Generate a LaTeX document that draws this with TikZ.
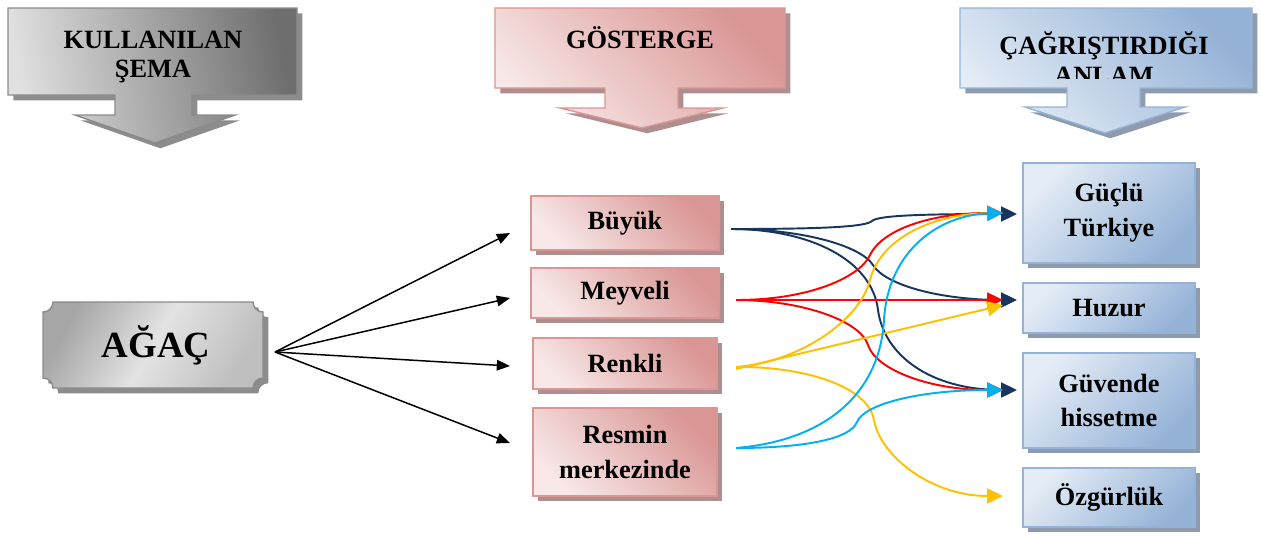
\documentclass[tikz,border=0pt]{standalone}
\usepackage{fontspec}
\setmainfont{Liberation Serif}
\usetikzlibrary{arrows.meta,shadows,calc}
\definecolor{navy}{HTML}{17365D}
\definecolor{cred}{HTML}{FF0000}
\definecolor{cyel}{HTML}{FFC000}
\definecolor{cblu}{HTML}{00B0F0}
\definecolor{pinkL}{HTML}{F8E8E8}
\definecolor{pinkD}{HTML}{D99694}
\definecolor{pinkS}{HTML}{AE8E8E}
\definecolor{blueL}{HTML}{E4ECF6}
\definecolor{blueD}{HTML}{95B3D7}
\definecolor{blueS}{HTML}{8E9BAC}
\definecolor{grayL}{HTML}{E0E0E0}
\definecolor{grayD}{HTML}{6E6E6E}
\definecolor{grayS}{HTML}{8C8C8C}
\begin{document}
\begin{tikzpicture}[x=0.02cm,y=-0.02cm,
  hdr/.style={font=\bfseries\fontsize{15}{17}\selectfont, align=center, inner sep=0pt},
  txt/.style={font=\bfseries\fontsize{15}{19.8}\selectfont, align=center, inner sep=0pt},
  sz/.style 2 args={minimum width=#1, minimum height=#2},
  pinkbox/.style={txt, draw=pinkD, line width=0.8pt, left color=pinkL, right color=pinkD, shading angle=135,
    general shadow={fill=pinkS, shadow xshift=3pt, shadow yshift=-3pt}},
  bluebox/.style={txt, draw=blueD, line width=0.8pt, left color=blueL, right color=blueD, shading angle=45,
    general shadow={fill=blueS, shadow xshift=3pt, shadow yshift=-3pt}},
  blk/.style={black, line width=0.85pt, -{Triangle[length=7.5pt,width=6pt]}},
  con/.style={line width=1.1pt, -{Triangle[length=9pt,width=8.5pt]}},
]
\useasboundingbox (0,0) rectangle (1261,535);
\fill[white] (0,0) rectangle (1261,535);

% header arrows
\def\hdrA{(8,8) -- (297,8) -- (297,95) -- (192,95) -- (192,115) -- (235,115) -- (155,143) -- (75,115) -- (115,115) -- (115,95) -- (8,95) -- cycle}
\def\hdrB{(495,8) -- (785,8) -- (785,88) -- (678,88) -- (678,108) -- (723,108) -- (642,128) -- (560,108) -- (605,108) -- (605,88) -- (495,88) -- cycle}
\def\hdrC{(960,8) -- (1252,8) -- (1252,88) -- (1140,88) -- (1140,107) -- (1185,107) -- (1105,133) -- (1025,107) -- (1067,107) -- (1067,88) -- (960,88) -- cycle}
\fill[grayS, xshift=3pt, yshift=-3pt] \hdrA;
\draw[grayD!80, line width=0.8pt, left color=grayL, right color=grayD, shading angle=100] \hdrA;
\fill[pinkS, xshift=3pt, yshift=-3pt] \hdrB;
\draw[pinkD, line width=0.8pt, left color=pinkL, right color=pinkD, shading angle=135] \hdrB;
\fill[blueS, xshift=3pt, yshift=-3pt] \hdrC;
\draw[blueD, line width=0.8pt, left color=blueL, right color=blueD, shading angle=135] \hdrC;
\node[hdr] (hA) at (153,57) {KULLANILAN\\ŞEMA};
\node[hdr] (hB) at (640,38) {GÖSTERGE};
\begin{scope}
\clip (960,8) rectangle (1252,78);
\node[hdr] (hC) at (1104,58) {ÇAĞRIŞTIRDIĞI\\ANLAM};
\end{scope}

% AGAC plaque
\def\plq{(53,302) -- (253,302) arc[start angle=180,end angle=90,radius=10] -- (263,378) arc[start angle=270,end angle=180,radius=10] -- (53,388) arc[start angle=0,end angle=-90,radius=10] -- (43,312) arc[start angle=90,end angle=0,radius=10] -- cycle}
\fill[grayS, xshift=3pt, yshift=-3pt] \plq;
\draw[grayD!80, line width=0.8pt, left color=gray!70, right color=gray!50, middle color=gray!22, shading angle=60] \plq;
\node[font=\bfseries\fontsize{21}{24}\selectfont, inner sep=0pt, sz={4.4cm}{1.72cm}] (agac) at (156,345) {AĞAÇ};

% middle boxes
\node[pinkbox, sz={3.76cm}{1.08cm}] (buyuk) at (625,223) {Büyük};
\node[pinkbox, sz={3.76cm}{1.0cm}] (meyveli) at (625,293) {Meyveli};
\node[pinkbox, sz={3.68cm}{1.02cm}] (renkli) at (625,363.5) {Renkli};
\node[pinkbox, sz={3.68cm}{1.76cm}] (resmin) at (625,452) {Resmin\\merkezinde};

% right boxes
\node[bluebox, sz={3.44cm}{2.0cm}] (guclu) at (1109,213) {Güçlü\\Türkiye};
\node[bluebox, sz={3.44cm}{1.0cm}] (huzur) at (1109,308) {Huzur};
\node[bluebox, sz={3.44cm}{1.9cm}] (guvende) at (1109,400.5) {Güvende\\hissetme};
\node[bluebox, sz={3.44cm}{1.18cm}] (ozgur) at (1109,497.5) {Özgürlük};

% connector end points
\coordinate (src) at (275,352);
\coordinate (aB) at (510,233);
\coordinate (aM) at (510,298);
\coordinate (aR) at (510,366);
\coordinate (aS) at (510,443);
\coordinate (sB) at (731,229);
\coordinate (sM) at (736,300);
\coordinate (sR) at (736,367);
\coordinate (sS) at (736,448);
\coordinate (tGd) at (1017,214);
\coordinate (tGc) at (1003,213);
\coordinate (tHd) at (1017,300);
\coordinate (tHc) at (1003,300);
\coordinate (tHy) at (1003,305);
\coordinate (tVd) at (1017,390);
\coordinate (tVc) at (1003,390);
\coordinate (tO) at (1003,496);

\draw[blk] (src) -- (aB);
\draw[blk] (src) -- (aM);
\draw[blk] (src) -- (aR);
\draw[blk] (src) -- (aS);

% navy
\draw[con, navy] (sB) .. controls (820,229) and (866,227) .. (872,221) .. controls (878,215) and (930,214) .. (tGd);
\draw[con, navy] (sB) .. controls (800,229) and (860,245) .. (873,265) .. controls (885,285) and (940,300) .. (tHd);
\draw[con, navy] (sB) .. controls (810,229) and (872,260) .. (878,310) .. controls (884,355) and (930,390) .. (tVd);
% red
\draw[con, cred] (sM) .. controls (810,300) and (860,277) .. (870,255) .. controls (882,230) and (930,213) .. (tGc);
\draw[con, cred] (sM) -- (tHc);
\draw[con, cred] (sM) .. controls (800,300) and (860,320) .. (868,345) .. controls (876,370) and (930,390) .. (tVc);
% yellow
\draw[con, cyel] (sR) .. controls (800,362) and (860,320) .. (870,280) .. controls (880,240) and (930,214) .. (tGc);
\draw[con, cyel] ($(sR)+(0,2)$) -- (tHy);
\draw[con, cyel] (sR) .. controls (800,366) and (868,385) .. (874,420) .. controls (880,455) and (930,496) .. (tO);
% blue
\draw[con, cblu] (sS) .. controls (830,440) and (880,390) .. (884,320) .. controls (888,250) and (940,215) .. (tGc);
\draw[con, cblu] (sS) .. controls (800,448) and (850,440) .. (857,422) .. controls (864,404) and (920,390) .. (tVc);
\end{tikzpicture}
\end{document}
